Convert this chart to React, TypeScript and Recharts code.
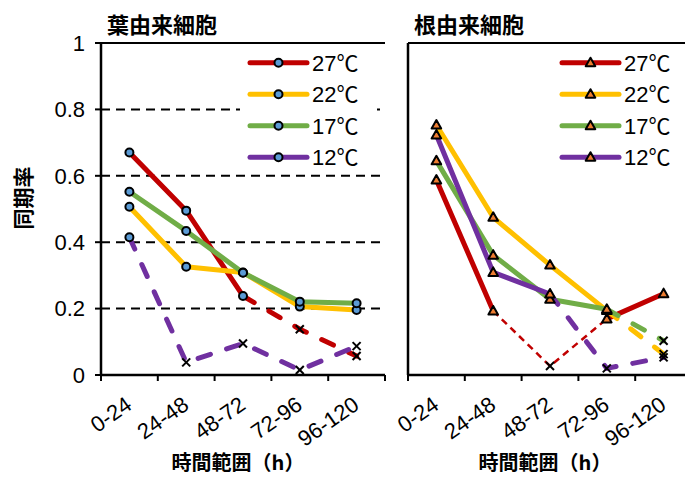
import React from "react";
import {
  LineChart,
  Line,
  XAxis,
  YAxis,
  CartesianGrid,
  ReferenceLine,
  Legend,
} from "recharts";

const categories = ["0-24", "24-48", "48-72", "72-96", "96-120"];
const yTicks = [0, 0.2, 0.4, 0.6, 0.8, 1];
const temps = ["27℃", "22℃", "17℃", "12℃"];

// 葉由来細胞
const leaf27 = [0.67, 0.495, 0.238, 0.138, 0.057];
const leaf22 = [0.507, 0.326, 0.309, 0.206, 0.196];
const leaf17 = [0.552, 0.434, 0.308, 0.221, 0.216];
const leaf12 = [0.415, 0.038, 0.095, 0.015, 0.087];
// true = 有意 (marker), false = ×
const leafSig27 = [true, true, true, false, false];
const leafSig22 = [true, true, true, true, true];
const leafSig17 = [true, true, true, true, true];
const leafSig12 = [true, false, false, false, false];

// 根由来細胞
const root27 = [0.587, 0.193, 0.027, 0.169, 0.245];
const root22 = [0.753, 0.475, 0.331, 0.194, 0.063];
const root17 = [0.645, 0.361, 0.228, 0.198, 0.103];
const root12 = [0.723, 0.309, 0.244, 0.02, 0.053];
const rootSig27 = [true, true, false, true, true];
const rootSig22 = [true, true, true, true, false];
const rootSig17 = [true, true, true, true, false];
const rootSig12 = [true, true, true, false, false];

const COLORS = ["#C00000", "#FFC000", "#70AD47", "#7030A0"];
const NUM_FONT = '"Liberation Sans", Arial, "Noto Sans CJK JP", sans-serif';
const JP_FONT = '"Noto Sans CJK JP", sans-serif';

const CHART_W = 395;
const CHART_H = 481;
const PLOT_LEFT = 101;
const PLOT_RIGHT = 385;
const PLOT_TOP = 43;
const PLOT_BOTTOM = 375;
const BAND = (PLOT_RIGHT - PLOT_LEFT) / categories.length;

type MarkerKind = "circle" | "triangle";

function buildRows(values: number[][], sig: boolean[][]) {
  return categories.map((cat, i) => {
    const row: Record<string, any> = { cat };
    values.forEach((vals, s) => {
      const g = sig[s];
      const n = vals.length;
      const solidPrev = i > 0 && g[i - 1] && g[i];
      const solidNext = i < n - 1 && g[i] && g[i + 1];
      const dashPrev = i > 0 && !(g[i - 1] && g[i]);
      const dashNext = i < n - 1 && !(g[i] && g[i + 1]);
      row[`s${s}`] = solidPrev || solidNext ? vals[i] : null;
      row[`d${s}`] = dashPrev || dashNext ? vals[i] : null;
      row[`m${s}`] = vals[i];
    });
    return row;
  });
}

function Marker({ cx, cy, kind }: { cx: number; cy: number; kind: MarkerKind | "x" }) {
  if (kind === "x") {
    return (
      <g>
        <line x1={cx - 4} y1={cy - 4} x2={cx + 4} y2={cy + 4} stroke="#000" strokeWidth={2} />
        <line x1={cx - 4} y1={cy + 4} x2={cx + 4} y2={cy - 4} stroke="#000" strokeWidth={2} />
      </g>
    );
  }
  if (kind === "triangle") {
    return (
      <polygon
        points={`${cx},${cy - 5} ${cx + 4.8},${cy + 3.5} ${cx - 4.8},${cy + 3.5}`}
        fill="#ED7D31"
        stroke="#000"
        strokeWidth={2}
        strokeLinejoin="round"
      />
    );
  }
  return <circle cx={cx} cy={cy} r={4} fill="#5B9BD5" stroke="#000" strokeWidth={2} />;
}

const renderXTick = (props: any) => {
  const { x, payload, index } = props;
  const half = BAND / 2;
  const tx = x + 4;
  const ty = 408;
  return (
    <g>
      <line x1={x - half} x2={x - half} y1={PLOT_BOTTOM} y2={PLOT_BOTTOM + 6} stroke="#000" strokeWidth={2} />
      {index === categories.length - 1 && (
        <line x1={x + half} x2={x + half} y1={PLOT_BOTTOM} y2={PLOT_BOTTOM + 6} stroke="#000" strokeWidth={2} />
      )}
      <text
        x={tx}
        y={ty}
        transform={`rotate(-35 ${tx} ${ty})`}
        textAnchor="end"
        fontSize={22}
        fontFamily={NUM_FONT}
        fill="#000"
      >
        {payload.value}
      </text>
    </g>
  );
};

function LegendBox({ marker, lineX }: { marker: MarkerKind; lineX: number }) {
  return (
    <div style={{ width: 137, height: 125, background: "#fff" }}>
      <svg width={137} height={125}>
        {temps.map((t, i) => {
          const cy = 15.7 + i * 31.5;
          return (
            <g key={t}>
              <line
                x1={lineX}
                x2={lineX + 57}
                y1={cy}
                y2={cy}
                stroke={COLORS[i]}
                strokeWidth={5}
                strokeLinecap="round"
              />
              <Marker cx={lineX + 28.5} cy={cy} kind={marker} />
              <text x={lineX + 62} y={cy + 8} fontSize={22} fontFamily={NUM_FONT} fill="#000">
                {t}
              </text>
            </g>
          );
        })}
      </svg>
    </div>
  );
}

function Panel({
  values,
  sig,
  marker,
  showYLabels,
  thinDash,
  legendLeft,
  legendLineX,
}: {
  values: number[][];
  sig: boolean[][];
  marker: MarkerKind;
  showYLabels: boolean;
  thinDash: boolean[];
  legendLeft: number;
  legendLineX: number;
}) {
  const rows = buildRows(values, sig);
  return (
    <LineChart
      width={CHART_W}
      height={CHART_H}
      data={rows}
      margin={{ top: PLOT_TOP, right: CHART_W - PLOT_RIGHT, bottom: 66, left: PLOT_LEFT - 60 }}
    >
      <CartesianGrid vertical={false} stroke="#000" strokeWidth={2} strokeDasharray="9 6" />
      <XAxis
        dataKey="cat"
        height={40}
        interval={0}
        padding={{ left: BAND / 2, right: BAND / 2 }}
        axisLine={{ stroke: "#000", strokeWidth: 2.5 }}
        tickLine={false}
        tick={renderXTick}
      />
      <YAxis
        type="number"
        domain={[0, 1]}
        ticks={yTicks}
        width={60}
        axisLine={{ stroke: "#000", strokeWidth: 2.5 }}
        tickLine={{ stroke: "#000", strokeWidth: 2 }}
        tickSize={6}
        tickMargin={10}
        tick={showYLabels ? { fontSize: 22, fill: "#000", fontFamily: NUM_FONT } : false}
      />
      <YAxis
        yAxisId="r"
        orientation="right"
        type="number"
        domain={[0, 1]}
        width={0}
        tick={false}
        tickLine={false}
        axisLine={{ stroke: "#000", strokeWidth: 2 }}
      />
      <ReferenceLine y={1} stroke="#000" strokeWidth={2} />
      {values.map((_, s) => [
        <Line
          key={`s${s}`}
          dataKey={`s${s}`}
          type="linear"
          stroke={COLORS[s]}
          strokeWidth={5}
          strokeLinecap="round"
          strokeLinejoin="round"
          dot={false}
          activeDot={false}
          legendType="none"
          isAnimationActive={false}
        />,
        <Line
          key={`d${s}`}
          dataKey={`d${s}`}
          type="linear"
          stroke={COLORS[s]}
          strokeWidth={thinDash[s] ? 2.5 : 5}
          strokeDasharray={thinDash[s] ? "7 5" : "13 17"}
          strokeLinecap={thinDash[s] ? "butt" : "round"}
          dot={false}
          activeDot={false}
          legendType="none"
          isAnimationActive={false}
        />,
      ])}
      {values.map((_, s) => (
        <Line
          key={`m${s}`}
          dataKey={`m${s}`}
          type="linear"
          stroke="none"
          activeDot={false}
          legendType="none"
          isAnimationActive={false}
          dot={(p: any) => {
            const k = `mk${s}-${p.index}`;
            if (p.cx == null || p.cy == null) return <g key={k} />;
            return (
              <g key={k}>
                <Marker cx={p.cx} cy={p.cy} kind={sig[s][p.index] ? marker : "x"} />
              </g>
            );
          }}
        />
      ))}
      <Legend
        layout="vertical"
        align="center"
        verticalAlign="middle"
        wrapperStyle={{ left: legendLeft, top: 47, width: 137, height: 125 }}
        content={() => <LegendBox marker={marker} lineX={legendLineX} />}
      />
    </LineChart>
  );
}

const textCenter = (x: number, y: number, size: number, extra: string = ""): React.CSSProperties => ({
  position: "absolute",
  left: x,
  top: y,
  transform: `translate(-50%, -50%) ${extra}`,
  fontFamily: JP_FONT,
  fontWeight: 700,
  fontSize: size,
  lineHeight: 1,
  whiteSpace: "nowrap",
  color: "#000",
});

export default function App() {
  return (
    <div
      style={{
        position: "absolute",
        left: 0,
        top: 0,
        width: 685,
        height: 481,
        overflow: "hidden",
        background: "#fff",
      }}
    >
      <div style={{ position: "absolute", left: 0, top: 0 }}>
        <Panel
          values={[leaf27, leaf22, leaf17, leaf12]}
          sig={[leafSig27, leafSig22, leafSig17, leafSig12]}
          marker="circle"
          showYLabels
          thinDash={[false, false, false, false]}
          legendLeft={240}
          legendLineX={10}
        />
      </div>
      <div style={{ position: "absolute", left: 307, top: 0 }}>
        <Panel
          values={[root27, root22, root17, root12]}
          sig={[rootSig27, rootSig22, rootSig17, rootSig12]}
          marker="triangle"
          showYLabels={false}
          thinDash={[true, false, false, false]}
          legendLeft={243}
          legendLineX={12}
        />
      </div>
      <div style={{ position: "absolute", left: 107, top: 12, fontFamily: JP_FONT, fontWeight: 700, fontSize: 22, lineHeight: "22px", whiteSpace: "nowrap" }}>
        葉由来細胞
      </div>
      <div style={{ position: "absolute", left: 414, top: 12, fontFamily: JP_FONT, fontWeight: 700, fontSize: 22, lineHeight: "22px", whiteSpace: "nowrap" }}>
        根由来細胞
      </div>
      <div style={textCenter(22, 198, 21, "rotate(-90deg)")}>同期率</div>
      <div style={textCenter(238, 462, 20)}>時間範囲（h）</div>
      <div style={textCenter(545, 462, 20)}>時間範囲（h）</div>
    </div>
  );
}
